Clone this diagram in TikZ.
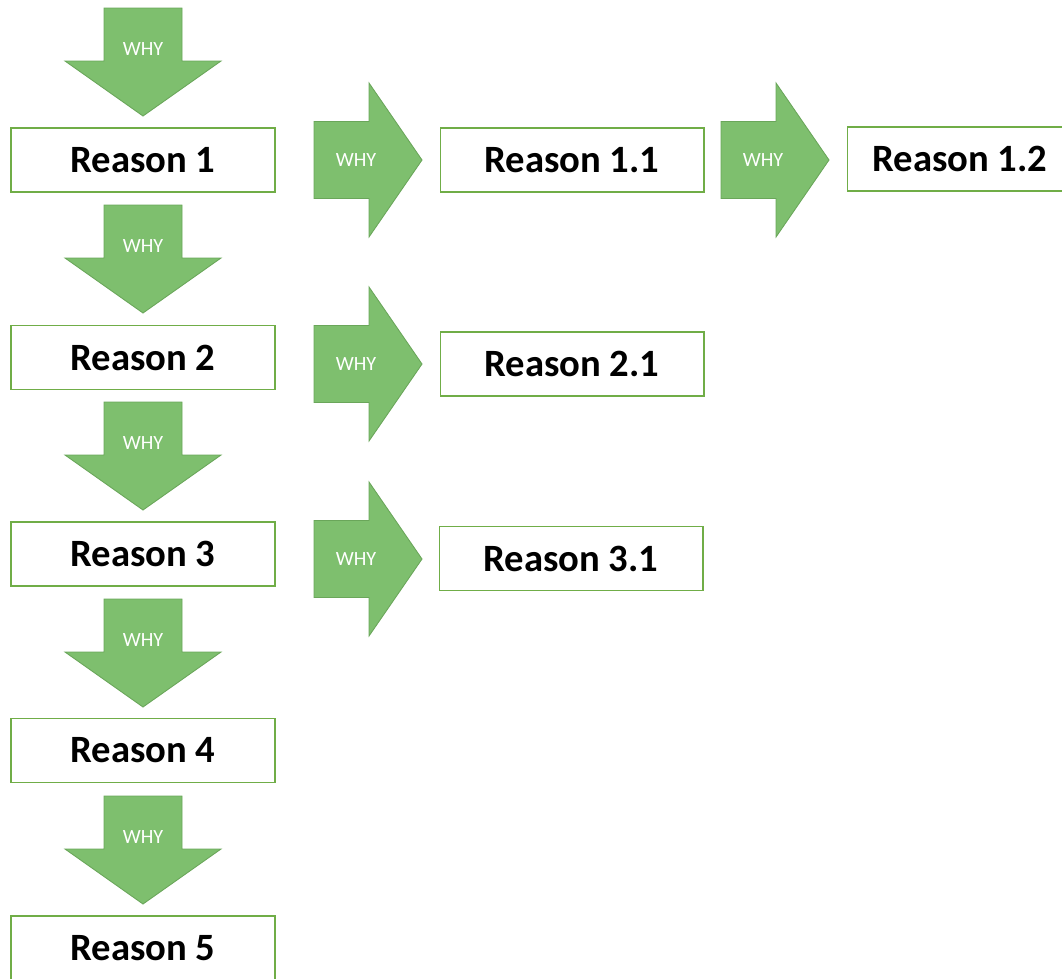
\documentclass[tikz,border=0pt]{standalone}
\usepackage{fontspec}
\setmainfont{Carlito}
\usepackage{tikz}
\usetikzlibrary{positioning}

\definecolor{whygreen}{RGB}{126,191,110}
\definecolor{whyedge}{RGB}{106,166,90}
\definecolor{boxedge}{RGB}{112,173,71}

\begin{document}
\begin{tikzpicture}[x=0.02cm, y=-0.02cm,
  reason/.style = {draw=boxedge, line width=0.6pt, fill=white, minimum width=5.28cm, minimum height=1.28cm, inner sep=0pt, font=\fontsize{22}{26}\selectfont\bfseries},
  why/.style = {text=white, inner sep=0pt, font=\fontsize{11.5}{14}\selectfont},
  blockarrow/.style = {fill=whygreen, draw=whyedge, line width=0.5pt}]
\useasboundingbox (0,0) rectangle (1062,978);

% down arrows
\foreach \k in {0,...,4}{
  \pgfmathsetmacro\t{8+197*\k}
  \draw[blockarrow] (104,\t) -- (182,\t) -- (182,\t+53) -- (221,\t+53) -- (143,\t+108) -- (65,\t+53) -- (104,\t+53) -- cycle;
  \node[why] (wd\k) at (143,\t+41) {WHY};
}

% right arrows
\foreach \ax/\ay/\n in {314/160/1, 314/364/2, 314/559/3, 721/160/4}{
  \draw[blockarrow] (\ax,\ay-38.5) -- (\ax+55,\ay-38.5) -- (\ax+55,\ay-77) -- (\ax+108,\ay) -- (\ax+55,\ay+77) -- (\ax+55,\ay+38.5) -- (\ax,\ay+38.5) -- cycle;
  \node[why] (wr\n) at (\ax+42,\ay) {WHY};
}

% reasons
\node[reason] (r1) at (143,160) {Reason 1};
\node[reason] (r2) at (143,357.5) {Reason 2};
\node[reason] (r3) at (143,554) {Reason 3};
\node[reason] (r4) at (143,750.5) {Reason 4};
\node[reason] (r5) at (143,948) {Reason 5};
\node[reason] (r11) at (572,160) {Reason 1.1};
\node[reason, minimum width=4.52cm] (r12) at (960,159) {Reason 1.2};
\node[reason] (r21) at (572,364) {Reason 2.1};
\node[reason] (r31) at (571,558.5) {Reason 3.1};
\end{tikzpicture}
\end{document}
